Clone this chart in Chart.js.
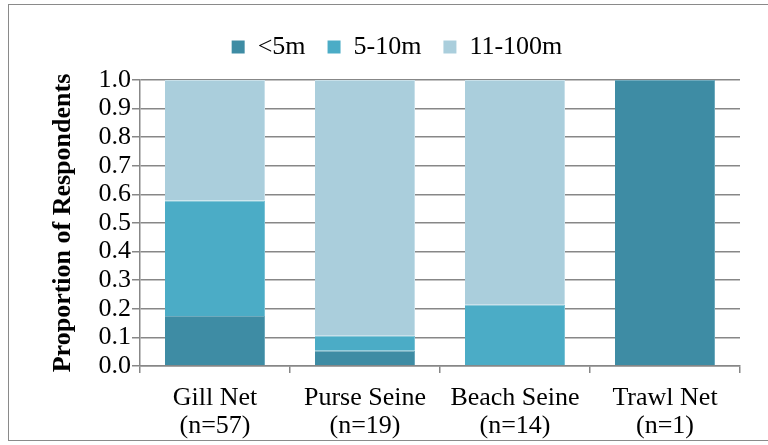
<!DOCTYPE html>
<html>
<head>
<meta charset="utf-8">
<script src="https://cdn.jsdelivr.net/npm/chart.js@4.4.1/dist/chart.umd.min.js"></script>
<style>
  html, body { margin: 0; padding: 0; background: #fff; overflow: hidden; }
  #frame { position: absolute; left: 8px; top: 4px; width: 800px; height: 437px; border: 1.5px solid #8a8a8a; box-sizing: border-box; }
  #wrap { position: absolute; left: 0; top: 0; width: 768px; height: 445px; }
</style>
</head>
<body>
<div id="frame"></div>
<div id="wrap"><canvas id="c" width="768" height="445"></canvas></div>
<script>
const categories = [["Gill Net", "(n=57)"], ["Purse Seine", "(n=19)"], ["Beach Seine", "(n=14)"], ["Trawl Net", "(n=1)"]];
const seriesNames = ["<5m", "5-10m", "11-100m"];
const under5m = [0.175, 0.053, 0, 1.0];
const m5to10 = [0.404, 0.053, 0.214, 0];
const m11to100 = [0.421, 0.894, 0.786, 0];
const colors = ["#3E8CA4", "#4BACC6", "#AACEDC"];
const edgeColors = ["#6FAABD", "#7CC3D6", "#C8E0E9"];

const FONT = "'Liberation Serif', 'Times New Roman', serif";

const legendSpacer = {
  id: 'legendSpacer',
  beforeInit(chart) {
    const origFit = chart.legend.fit;
    chart.legend.fit = function () {
      origFit.bind(this)();
      this.height += 10;
    };
  }
};

const edge = { top: 1, right: 1, bottom: 0, left: 0 };

new Chart(document.getElementById('c'), {
  type: 'bar',
  data: {
    labels: categories,
    datasets: [
      { label: seriesNames[0], data: under5m, backgroundColor: colors[0], borderColor: edgeColors[0], borderWidth: edge, borderSkipped: false },
      { label: seriesNames[1], data: m5to10, backgroundColor: colors[1], borderColor: edgeColors[1], borderWidth: edge, borderSkipped: false },
      { label: seriesNames[2], data: m11to100, backgroundColor: colors[2], borderColor: edgeColors[2], borderWidth: edge, borderSkipped: false }
    ]
  },
  plugins: [legendSpacer],
  options: {
    responsive: false,
    animation: false,
    devicePixelRatio: 1,
    layout: { padding: { left: 54, right: 28, top: 12, bottom: 0 } },
    datasets: { bar: { categoryPercentage: 1.0, barPercentage: 0.667 } },
    plugins: {
      legend: {
        position: 'top',
        labels: {
          font: { family: FONT, size: 26 },
          color: '#000',
          boxWidth: 13,
          boxHeight: 13,
          padding: 22,
          generateLabels: (chart) => chart.data.datasets.map((ds, i) => ({
            text: ds.label, fillStyle: ds.backgroundColor, strokeStyle: ds.backgroundColor,
            lineWidth: 0, hidden: false, datasetIndex: i, fontColor: '#000'
          }))
        }
      },
      tooltip: { enabled: false }
    },
    scales: {
      x: {
        stacked: true,
        grid: { drawOnChartArea: false, drawTicks: true, tickLength: 7, offset: true, color: '#878787', lineWidth: 1.5 },
        border: { color: '#878787', width: 1.5 },
        ticks: { font: { family: FONT, size: 26, lineHeight: 1.05 }, color: '#000', maxRotation: 0, padding: 12 },
        afterFit: (s) => { s.height = 79; }
      },
      y: {
        stacked: true,
        min: 0,
        max: 1,
        grid: { color: '#878787', lineWidth: 1.5, tickLength: 8 },
        border: { color: '#878787', width: 1.5 },
        ticks: { stepSize: 0.1, autoSkip: false, font: { family: FONT, size: 26 }, color: '#000', padding: 1,
                 callback: (v) => Number(v).toFixed(1) },
        title: { display: true, text: 'Proportion of Respondents', font: { family: FONT, size: 26, weight: 'bold' }, color: '#000', padding: { top: -6, bottom: 0 } },
        afterFit: (s) => { s.width = 86; }
      }
    }
  }
});
</script>
</body>
</html>
